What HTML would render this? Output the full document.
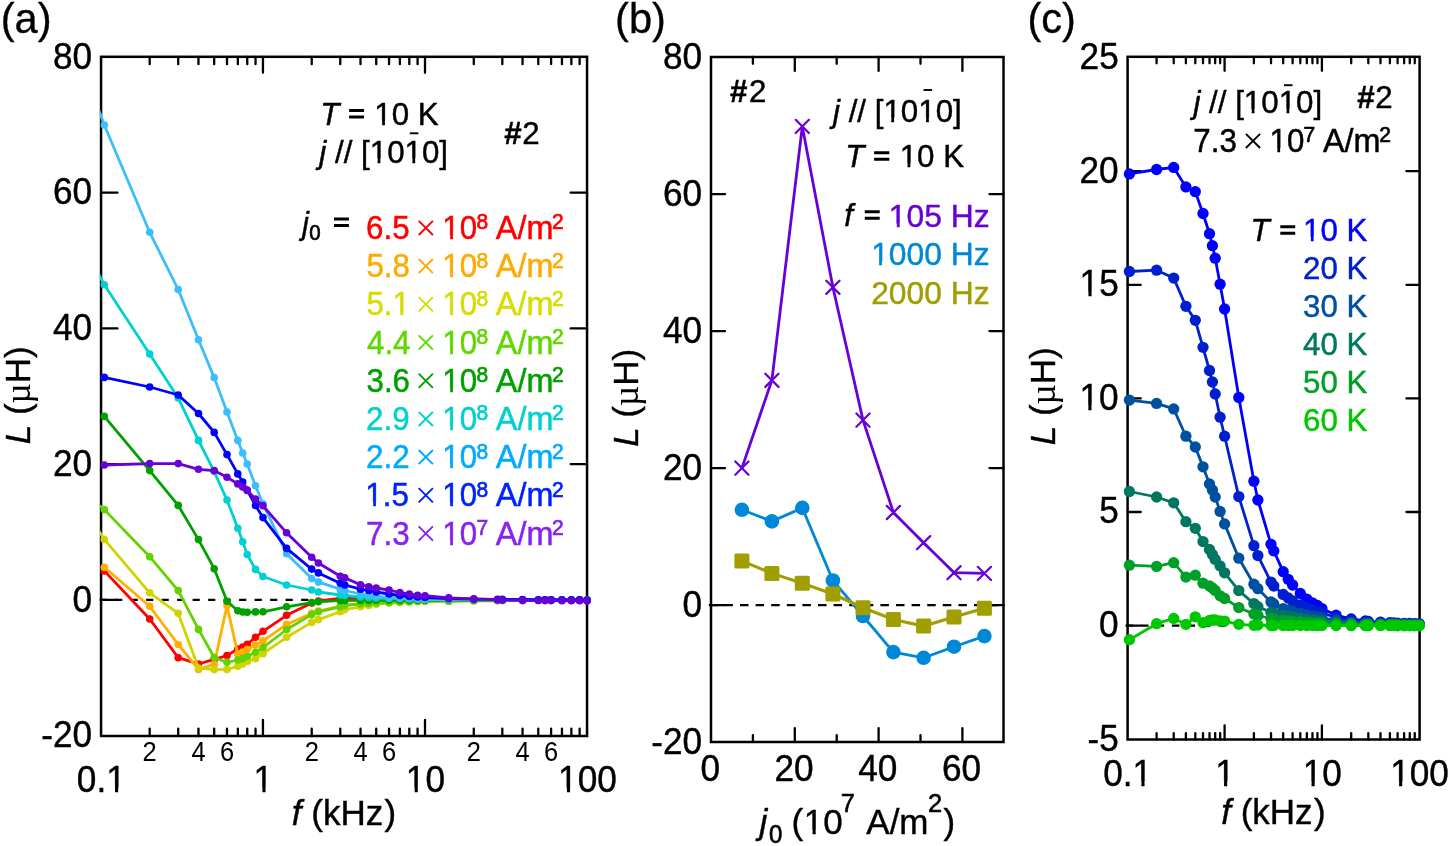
<!DOCTYPE html><html><head><meta charset="utf-8"><title>figure</title><style>html,body{margin:0;padding:0;background:#fff;overflow:hidden;}svg{display:block;will-change:transform;}text{font-family:"Liberation Sans",sans-serif;font-kerning:none;}</style></head><body>
<svg width="1450" height="846" viewBox="0 0 1450 846">
<rect width="1450" height="846" fill="#fff"/>
<defs>
<clipPath id="ca"><rect x="99.8" y="55.5" width="488.6" height="681.8"/></clipPath>
<clipPath id="cb"><rect x="709.7" y="55.7" width="295.1" height="687.6"/></clipPath>
<clipPath id="cc"><rect x="1126.3" y="55.5" width="294.6" height="685.3"/></clipPath>
</defs>
<rect x="101.05" y="56.80" width="486.00" height="679.20" fill="none" stroke="#000" stroke-width="2.5"/>
<rect x="711.00" y="57.00" width="292.50" height="685.00" fill="none" stroke="#000" stroke-width="2.5"/>
<rect x="1127.60" y="56.80" width="292.00" height="682.70" fill="none" stroke="#000" stroke-width="2.5"/>
<path d="M149.68 736.00v-7.35M149.68 56.80v7.35M178.22 736.00v-7.35M178.22 56.80v7.35M198.46 736.00v-7.35M198.46 56.80v7.35M214.17 736.00v-7.35M214.17 56.80v7.35M227.00 736.00v-7.35M227.00 56.80v7.35M237.85 736.00v-7.35M237.85 56.80v7.35M247.25 736.00v-7.35M247.25 56.80v7.35M255.53 736.00v-7.35M255.53 56.80v7.35M262.95 736.00v-16.05M262.95 56.80v16.05M311.73 736.00v-7.35M311.73 56.80v7.35M340.27 736.00v-7.35M340.27 56.80v7.35M360.51 736.00v-7.35M360.51 56.80v7.35M376.22 736.00v-7.35M376.22 56.80v7.35M389.05 736.00v-7.35M389.05 56.80v7.35M399.90 736.00v-7.35M399.90 56.80v7.35M409.30 736.00v-7.35M409.30 56.80v7.35M417.58 736.00v-7.35M417.58 56.80v7.35M425.00 736.00v-16.05M425.00 56.80v16.05M473.78 736.00v-7.35M473.78 56.80v7.35M502.32 736.00v-7.35M502.32 56.80v7.35M522.56 736.00v-7.35M522.56 56.80v7.35M538.27 736.00v-7.35M538.27 56.80v7.35M551.10 736.00v-7.35M551.10 56.80v7.35M561.95 736.00v-7.35M561.95 56.80v7.35M571.35 736.00v-7.35M571.35 56.80v7.35M579.63 736.00v-7.35M579.63 56.80v7.35M101.05 192.70h16.45M587.05 192.70h-16.45M101.05 328.40h16.45M587.05 328.40h-16.45M101.05 464.10h16.45M587.05 464.10h-16.45M101.05 599.80h16.45M587.05 599.80h-16.45M752.90 742.00v-6.85M752.90 57.00v6.85M794.80 742.00v-13.95M794.80 57.00v13.95M836.70 742.00v-6.85M836.70 57.00v6.85M878.60 742.00v-13.95M878.60 57.00v13.95M920.50 742.00v-6.85M920.50 57.00v6.85M962.40 742.00v-13.95M962.40 57.00v13.95M711.00 194.10h14.05M1003.50 194.10h-14.05M711.00 331.10h14.05M1003.50 331.10h-14.05M711.00 468.10h14.05M1003.50 468.10h-14.05M711.00 605.10h14.05M1003.50 605.10h-14.05M1156.59 739.50v-6.45M1156.59 56.80v6.45M1173.72 739.50v-6.45M1173.72 56.80v6.45M1185.88 739.50v-6.45M1185.88 56.80v6.45M1195.31 739.50v-6.45M1195.31 56.80v6.45M1203.01 739.50v-6.45M1203.01 56.80v6.45M1209.53 739.50v-6.45M1209.53 56.80v6.45M1215.17 739.50v-6.45M1215.17 56.80v6.45M1220.15 739.50v-6.45M1220.15 56.80v6.45M1224.60 739.50v-14.05M1224.60 56.80v14.05M1253.89 739.50v-6.45M1253.89 56.80v6.45M1271.02 739.50v-6.45M1271.02 56.80v6.45M1283.18 739.50v-6.45M1283.18 56.80v6.45M1292.61 739.50v-6.45M1292.61 56.80v6.45M1300.31 739.50v-6.45M1300.31 56.80v6.45M1306.83 739.50v-6.45M1306.83 56.80v6.45M1312.47 739.50v-6.45M1312.47 56.80v6.45M1317.45 739.50v-6.45M1317.45 56.80v6.45M1321.90 739.50v-14.05M1321.90 56.80v14.05M1351.19 739.50v-6.45M1351.19 56.80v6.45M1368.32 739.50v-6.45M1368.32 56.80v6.45M1380.48 739.50v-6.45M1380.48 56.80v6.45M1389.91 739.50v-6.45M1389.91 56.80v6.45M1397.61 739.50v-6.45M1397.61 56.80v6.45M1404.13 739.50v-6.45M1404.13 56.80v6.45M1409.77 739.50v-6.45M1409.77 56.80v6.45M1414.75 739.50v-6.45M1414.75 56.80v6.45M1127.60 171.20h13.15M1419.60 171.20h-13.15M1127.60 284.80h13.15M1419.60 284.80h-13.15M1127.60 398.40h13.15M1419.60 398.40h-13.15M1127.60 512.00h13.15M1419.60 512.00h-13.15M1127.60 625.60h13.15M1419.60 625.60h-13.15" stroke="#000" stroke-width="2.3" stroke-linecap="round" fill="none"/>
<line x1="99.6" y1="599.8" x2="587" y2="599.8" stroke="#000" stroke-width="2.3" stroke-dasharray="7.2 8.3"/>
<line x1="708.8" y1="605.2" x2="1003" y2="605.2" stroke="#000" stroke-width="2.3" stroke-dasharray="8.5 7.1"/>
<line x1="1125.5" y1="625.6" x2="1419.6" y2="625.6" stroke="#000" stroke-width="2.3" stroke-dasharray="7.5 8.0"/>
<polyline clip-path="url(#ca)" points="104.3,570.9 149.7,619.0 178.2,657.7 198.5,664.0 214.2,659.4 227.0,655.6 237.8,649.0 242.7,647.0 247.2,644.3 255.5,637.3 263.0,631.3 286.6,615.3 311.7,603.0 318.4,601.0 340.3,598.5 344.8,598.4 360.5,598.0 368.8,598.3 376.2,598.5 389.0,598.8 399.9,599.0 409.3,599.2 417.6,599.3 425.0,599.5 448.7,599.6 473.8,599.7 497.5,599.7 502.3,599.7 522.6,599.8 538.3,599.8 545.0,599.9 551.1,599.9 561.9,599.9 571.3,600.0 579.6,600.0 587.1,600.0" fill="none" stroke="#ff0000" stroke-width="2.8" stroke-linejoin="round"/>
<g fill="#ff0000"><circle cx="104.3" cy="570.9" r="3.8"/><circle cx="149.7" cy="619.0" r="3.8"/><circle cx="178.2" cy="657.7" r="3.8"/><circle cx="198.5" cy="664.0" r="3.8"/><circle cx="214.2" cy="659.4" r="3.8"/><circle cx="227.0" cy="655.6" r="3.8"/><circle cx="237.8" cy="649.0" r="3.8"/><circle cx="242.7" cy="647.0" r="3.8"/><circle cx="247.2" cy="644.3" r="3.8"/><circle cx="255.5" cy="637.3" r="3.8"/><circle cx="263.0" cy="631.3" r="3.8"/><circle cx="286.6" cy="615.3" r="3.8"/><circle cx="311.7" cy="603.0" r="3.8"/><circle cx="318.4" cy="601.0" r="3.8"/><circle cx="340.3" cy="598.5" r="3.8"/><circle cx="344.8" cy="598.4" r="3.8"/><circle cx="360.5" cy="598.0" r="3.8"/><circle cx="368.8" cy="598.3" r="3.8"/><circle cx="376.2" cy="598.5" r="3.8"/><circle cx="389.0" cy="598.8" r="3.8"/><circle cx="399.9" cy="599.0" r="3.8"/><circle cx="409.3" cy="599.2" r="3.8"/><circle cx="417.6" cy="599.3" r="3.8"/><circle cx="425.0" cy="599.5" r="3.8"/><circle cx="448.7" cy="599.6" r="3.8"/><circle cx="473.8" cy="599.7" r="3.8"/><circle cx="497.5" cy="599.7" r="3.8"/><circle cx="502.3" cy="599.7" r="3.8"/><circle cx="522.6" cy="599.8" r="3.8"/><circle cx="538.3" cy="599.8" r="3.8"/><circle cx="545.0" cy="599.9" r="3.8"/><circle cx="551.1" cy="599.9" r="3.8"/><circle cx="561.9" cy="599.9" r="3.8"/><circle cx="571.3" cy="600.0" r="3.8"/><circle cx="579.6" cy="600.0" r="3.8"/><circle cx="587.1" cy="600.0" r="3.8"/></g>
<polyline clip-path="url(#ca)" points="104.3,567.3 149.7,606.3 178.2,644.5 198.5,669.4 214.2,664.4 227.0,605.5 237.8,654.0 242.7,652.0 247.2,649.5 255.5,645.1 263.0,640.9 286.6,624.5 311.7,613.2 318.4,611.0 340.3,606.0 344.8,605.4 360.5,603.5 368.8,603.0 376.2,602.5 389.0,602.1 399.9,601.8 409.3,601.5 417.6,601.2 425.0,601.0 448.7,600.9 473.8,600.7 497.5,600.6 502.3,600.5 522.6,600.4 538.3,600.3 545.0,600.3 551.1,600.2 561.9,600.2 571.3,600.1 579.6,600.0 587.1,600.0" fill="none" stroke="#ffb000" stroke-width="2.8" stroke-linejoin="round"/>
<g fill="#ffb000"><circle cx="104.3" cy="567.3" r="3.8"/><circle cx="149.7" cy="606.3" r="3.8"/><circle cx="178.2" cy="644.5" r="3.8"/><circle cx="198.5" cy="669.4" r="3.8"/><circle cx="214.2" cy="664.4" r="3.8"/><circle cx="227.0" cy="605.5" r="3.8"/><circle cx="237.8" cy="654.0" r="3.8"/><circle cx="242.7" cy="652.0" r="3.8"/><circle cx="247.2" cy="649.5" r="3.8"/><circle cx="255.5" cy="645.1" r="3.8"/><circle cx="263.0" cy="640.9" r="3.8"/><circle cx="286.6" cy="624.5" r="3.8"/><circle cx="311.7" cy="613.2" r="3.8"/><circle cx="318.4" cy="611.0" r="3.8"/><circle cx="340.3" cy="606.0" r="3.8"/><circle cx="344.8" cy="605.4" r="3.8"/><circle cx="360.5" cy="603.5" r="3.8"/><circle cx="368.8" cy="603.0" r="3.8"/><circle cx="376.2" cy="602.5" r="3.8"/><circle cx="389.0" cy="602.1" r="3.8"/><circle cx="399.9" cy="601.8" r="3.8"/><circle cx="409.3" cy="601.5" r="3.8"/><circle cx="417.6" cy="601.2" r="3.8"/><circle cx="425.0" cy="601.0" r="3.8"/><circle cx="448.7" cy="600.9" r="3.8"/><circle cx="473.8" cy="600.7" r="3.8"/><circle cx="497.5" cy="600.6" r="3.8"/><circle cx="502.3" cy="600.5" r="3.8"/><circle cx="522.6" cy="600.4" r="3.8"/><circle cx="538.3" cy="600.3" r="3.8"/><circle cx="545.0" cy="600.3" r="3.8"/><circle cx="551.1" cy="600.2" r="3.8"/><circle cx="561.9" cy="600.2" r="3.8"/><circle cx="571.3" cy="600.1" r="3.8"/><circle cx="579.6" cy="600.0" r="3.8"/><circle cx="587.1" cy="600.0" r="3.8"/></g>
<polyline clip-path="url(#ca)" points="95.0,524.8 104.3,539.4 149.7,592.8 178.2,613.3 198.5,668.0 214.2,669.6 227.0,669.4 237.8,666.3 242.7,664.0 247.2,661.5 255.5,658.7 263.0,653.7 286.6,637.3 311.7,622.4 318.4,619.6 340.3,611.8 344.8,609.6 360.5,606.8 368.8,605.4 376.2,604.2 389.0,603.0 399.9,602.5 409.3,602.2 417.6,601.8 425.0,601.5 448.7,601.3 473.8,601.0 497.5,600.8 502.3,600.8 522.6,600.6 538.3,600.5 545.0,600.4 551.1,600.3 561.9,600.2 571.3,600.1 579.6,600.1 587.1,600.0" fill="none" stroke="#d0d400" stroke-width="2.8" stroke-linejoin="round"/>
<g fill="#d0d400"><circle cx="104.3" cy="539.4" r="3.8"/><circle cx="149.7" cy="592.8" r="3.8"/><circle cx="178.2" cy="613.3" r="3.8"/><circle cx="198.5" cy="668.0" r="3.8"/><circle cx="214.2" cy="669.6" r="3.8"/><circle cx="227.0" cy="669.4" r="3.8"/><circle cx="237.8" cy="666.3" r="3.8"/><circle cx="242.7" cy="664.0" r="3.8"/><circle cx="247.2" cy="661.5" r="3.8"/><circle cx="255.5" cy="658.7" r="3.8"/><circle cx="263.0" cy="653.7" r="3.8"/><circle cx="286.6" cy="637.3" r="3.8"/><circle cx="311.7" cy="622.4" r="3.8"/><circle cx="318.4" cy="619.6" r="3.8"/><circle cx="340.3" cy="611.8" r="3.8"/><circle cx="344.8" cy="609.6" r="3.8"/><circle cx="360.5" cy="606.8" r="3.8"/><circle cx="368.8" cy="605.4" r="3.8"/><circle cx="376.2" cy="604.2" r="3.8"/><circle cx="389.0" cy="603.0" r="3.8"/><circle cx="399.9" cy="602.5" r="3.8"/><circle cx="409.3" cy="602.2" r="3.8"/><circle cx="417.6" cy="601.8" r="3.8"/><circle cx="425.0" cy="601.5" r="3.8"/><circle cx="448.7" cy="601.3" r="3.8"/><circle cx="473.8" cy="601.0" r="3.8"/><circle cx="497.5" cy="600.8" r="3.8"/><circle cx="502.3" cy="600.8" r="3.8"/><circle cx="522.6" cy="600.6" r="3.8"/><circle cx="538.3" cy="600.5" r="3.8"/><circle cx="545.0" cy="600.4" r="3.8"/><circle cx="551.1" cy="600.3" r="3.8"/><circle cx="561.9" cy="600.2" r="3.8"/><circle cx="571.3" cy="600.1" r="3.8"/><circle cx="579.6" cy="600.1" r="3.8"/><circle cx="587.1" cy="600.0" r="3.8"/></g>
<polyline clip-path="url(#ca)" points="95.0,501.9 104.3,509.6 149.7,556.7 178.2,590.6 198.5,629.4 214.2,657.5 227.0,662.3 237.8,660.0 242.7,658.5 247.2,656.5 255.5,652.3 263.0,647.5 286.6,629.5 311.7,614.6 318.4,611.8 340.3,606.8 344.8,605.4 360.5,604.0 368.8,603.5 376.2,603.0 389.0,602.5 399.9,602.0 409.3,601.6 417.6,601.3 425.0,601.0 448.7,600.9 473.8,600.7 497.5,600.6 502.3,600.5 522.6,600.4 538.3,600.3 545.0,600.3 551.1,600.2 561.9,600.2 571.3,600.1 579.6,600.0 587.1,600.0" fill="none" stroke="#64d200" stroke-width="2.8" stroke-linejoin="round"/>
<g fill="#64d200"><circle cx="104.3" cy="509.6" r="3.8"/><circle cx="149.7" cy="556.7" r="3.8"/><circle cx="178.2" cy="590.6" r="3.8"/><circle cx="198.5" cy="629.4" r="3.8"/><circle cx="214.2" cy="657.5" r="3.8"/><circle cx="227.0" cy="662.3" r="3.8"/><circle cx="237.8" cy="660.0" r="3.8"/><circle cx="242.7" cy="658.5" r="3.8"/><circle cx="247.2" cy="656.5" r="3.8"/><circle cx="255.5" cy="652.3" r="3.8"/><circle cx="263.0" cy="647.5" r="3.8"/><circle cx="286.6" cy="629.5" r="3.8"/><circle cx="311.7" cy="614.6" r="3.8"/><circle cx="318.4" cy="611.8" r="3.8"/><circle cx="340.3" cy="606.8" r="3.8"/><circle cx="344.8" cy="605.4" r="3.8"/><circle cx="360.5" cy="604.0" r="3.8"/><circle cx="368.8" cy="603.5" r="3.8"/><circle cx="376.2" cy="603.0" r="3.8"/><circle cx="389.0" cy="602.5" r="3.8"/><circle cx="399.9" cy="602.0" r="3.8"/><circle cx="409.3" cy="601.6" r="3.8"/><circle cx="417.6" cy="601.3" r="3.8"/><circle cx="425.0" cy="601.0" r="3.8"/><circle cx="448.7" cy="600.9" r="3.8"/><circle cx="473.8" cy="600.7" r="3.8"/><circle cx="497.5" cy="600.6" r="3.8"/><circle cx="502.3" cy="600.5" r="3.8"/><circle cx="522.6" cy="600.4" r="3.8"/><circle cx="538.3" cy="600.3" r="3.8"/><circle cx="545.0" cy="600.3" r="3.8"/><circle cx="551.1" cy="600.2" r="3.8"/><circle cx="561.9" cy="600.2" r="3.8"/><circle cx="571.3" cy="600.1" r="3.8"/><circle cx="579.6" cy="600.0" r="3.8"/><circle cx="587.1" cy="600.0" r="3.8"/></g>
<polyline clip-path="url(#ca)" points="104.3,416.4 149.7,470.6 178.2,505.4 198.5,539.6 214.2,568.7 227.0,601.2 237.8,610.8 242.7,612.0 247.2,612.3 255.5,611.9 263.0,611.8 286.6,606.8 311.7,602.6 318.4,601.8 340.3,600.4 344.8,600.4 360.5,600.4 368.8,600.4 376.2,600.3 389.0,600.3 399.9,600.3 409.3,600.3 417.6,600.3 425.0,600.3 448.7,600.2 473.8,600.2 497.5,600.1 502.3,600.1 522.6,600.1 538.3,600.1 545.0,600.1 551.1,600.1 561.9,600.0 571.3,600.0 579.6,600.0 587.1,600.0" fill="none" stroke="#00a000" stroke-width="2.8" stroke-linejoin="round"/>
<g fill="#00a000"><circle cx="104.3" cy="416.4" r="3.8"/><circle cx="149.7" cy="470.6" r="3.8"/><circle cx="178.2" cy="505.4" r="3.8"/><circle cx="198.5" cy="539.6" r="3.8"/><circle cx="214.2" cy="568.7" r="3.8"/><circle cx="227.0" cy="601.2" r="3.8"/><circle cx="237.8" cy="610.8" r="3.8"/><circle cx="242.7" cy="612.0" r="3.8"/><circle cx="247.2" cy="612.3" r="3.8"/><circle cx="255.5" cy="611.9" r="3.8"/><circle cx="263.0" cy="611.8" r="3.8"/><circle cx="286.6" cy="606.8" r="3.8"/><circle cx="311.7" cy="602.6" r="3.8"/><circle cx="318.4" cy="601.8" r="3.8"/><circle cx="340.3" cy="600.4" r="3.8"/><circle cx="344.8" cy="600.4" r="3.8"/><circle cx="360.5" cy="600.4" r="3.8"/><circle cx="368.8" cy="600.4" r="3.8"/><circle cx="376.2" cy="600.3" r="3.8"/><circle cx="389.0" cy="600.3" r="3.8"/><circle cx="399.9" cy="600.3" r="3.8"/><circle cx="409.3" cy="600.3" r="3.8"/><circle cx="417.6" cy="600.3" r="3.8"/><circle cx="425.0" cy="600.3" r="3.8"/><circle cx="448.7" cy="600.2" r="3.8"/><circle cx="473.8" cy="600.2" r="3.8"/><circle cx="497.5" cy="600.1" r="3.8"/><circle cx="502.3" cy="600.1" r="3.8"/><circle cx="522.6" cy="600.1" r="3.8"/><circle cx="538.3" cy="600.1" r="3.8"/><circle cx="545.0" cy="600.1" r="3.8"/><circle cx="551.1" cy="600.1" r="3.8"/><circle cx="561.9" cy="600.0" r="3.8"/><circle cx="571.3" cy="600.0" r="3.8"/><circle cx="579.6" cy="600.0" r="3.8"/><circle cx="587.1" cy="600.0" r="3.8"/></g>
<polyline clip-path="url(#ca)" points="95.0,267.3 104.3,284.8 149.7,354.0 178.2,398.0 198.5,440.4 214.2,471.6 227.0,500.0 237.8,528.3 242.7,541.8 247.2,554.5 255.5,569.4 263.0,576.5 286.6,585.0 311.7,590.0 318.4,592.0 340.3,595.0 344.8,595.4 360.5,597.0 368.8,597.5 376.2,598.0 389.0,598.4 399.9,598.7 409.3,599.0 417.6,599.3 425.0,599.5 448.7,599.6 473.8,599.7 497.5,599.7 502.3,599.7 522.6,599.8 538.3,599.8 545.0,599.9 551.1,599.9 561.9,599.9 571.3,600.0 579.6,600.0 587.1,600.0" fill="none" stroke="#00d0d0" stroke-width="2.8" stroke-linejoin="round"/>
<g fill="#00d0d0"><circle cx="104.3" cy="284.8" r="3.8"/><circle cx="149.7" cy="354.0" r="3.8"/><circle cx="178.2" cy="398.0" r="3.8"/><circle cx="198.5" cy="440.4" r="3.8"/><circle cx="214.2" cy="471.6" r="3.8"/><circle cx="227.0" cy="500.0" r="3.8"/><circle cx="237.8" cy="528.3" r="3.8"/><circle cx="242.7" cy="541.8" r="3.8"/><circle cx="247.2" cy="554.5" r="3.8"/><circle cx="255.5" cy="569.4" r="3.8"/><circle cx="263.0" cy="576.5" r="3.8"/><circle cx="286.6" cy="585.0" r="3.8"/><circle cx="311.7" cy="590.0" r="3.8"/><circle cx="318.4" cy="592.0" r="3.8"/><circle cx="340.3" cy="595.0" r="3.8"/><circle cx="344.8" cy="595.4" r="3.8"/><circle cx="360.5" cy="597.0" r="3.8"/><circle cx="368.8" cy="597.5" r="3.8"/><circle cx="376.2" cy="598.0" r="3.8"/><circle cx="389.0" cy="598.4" r="3.8"/><circle cx="399.9" cy="598.7" r="3.8"/><circle cx="409.3" cy="599.0" r="3.8"/><circle cx="417.6" cy="599.3" r="3.8"/><circle cx="425.0" cy="599.5" r="3.8"/><circle cx="448.7" cy="599.6" r="3.8"/><circle cx="473.8" cy="599.7" r="3.8"/><circle cx="497.5" cy="599.7" r="3.8"/><circle cx="502.3" cy="599.7" r="3.8"/><circle cx="522.6" cy="599.8" r="3.8"/><circle cx="538.3" cy="599.8" r="3.8"/><circle cx="545.0" cy="599.9" r="3.8"/><circle cx="551.1" cy="599.9" r="3.8"/><circle cx="561.9" cy="599.9" r="3.8"/><circle cx="571.3" cy="600.0" r="3.8"/><circle cx="579.6" cy="600.0" r="3.8"/><circle cx="587.1" cy="600.0" r="3.8"/></g>
<polyline clip-path="url(#ca)" points="95.0,99.5 104.3,125.0 149.7,232.3 178.2,289.5 198.5,339.8 214.2,377.6 227.0,412.0 237.8,440.4 242.7,453.0 247.2,464.0 255.5,485.8 263.0,503.7 286.6,553.8 311.7,578.6 318.4,582.1 340.3,589.2 344.8,590.5 360.5,594.0 368.8,595.3 376.2,596.5 389.0,597.3 399.9,598.0 409.3,598.5 417.6,599.0 425.0,599.5 448.7,599.6 473.8,599.7 497.5,599.7 502.3,599.7 522.6,599.8 538.3,599.8 545.0,599.9 551.1,599.9 561.9,599.9 571.3,600.0 579.6,600.0 587.1,600.0" fill="none" stroke="#3cbefa" stroke-width="2.8" stroke-linejoin="round"/>
<g fill="#3cbefa"><circle cx="104.3" cy="125.0" r="3.8"/><circle cx="149.7" cy="232.3" r="3.8"/><circle cx="178.2" cy="289.5" r="3.8"/><circle cx="198.5" cy="339.8" r="3.8"/><circle cx="214.2" cy="377.6" r="3.8"/><circle cx="227.0" cy="412.0" r="3.8"/><circle cx="237.8" cy="440.4" r="3.8"/><circle cx="242.7" cy="453.0" r="3.8"/><circle cx="247.2" cy="464.0" r="3.8"/><circle cx="255.5" cy="485.8" r="3.8"/><circle cx="263.0" cy="503.7" r="3.8"/><circle cx="286.6" cy="553.8" r="3.8"/><circle cx="311.7" cy="578.6" r="3.8"/><circle cx="318.4" cy="582.1" r="3.8"/><circle cx="340.3" cy="589.2" r="3.8"/><circle cx="344.8" cy="590.5" r="3.8"/><circle cx="360.5" cy="594.0" r="3.8"/><circle cx="368.8" cy="595.3" r="3.8"/><circle cx="376.2" cy="596.5" r="3.8"/><circle cx="389.0" cy="597.3" r="3.8"/><circle cx="399.9" cy="598.0" r="3.8"/><circle cx="409.3" cy="598.5" r="3.8"/><circle cx="417.6" cy="599.0" r="3.8"/><circle cx="425.0" cy="599.5" r="3.8"/><circle cx="448.7" cy="599.6" r="3.8"/><circle cx="473.8" cy="599.7" r="3.8"/><circle cx="497.5" cy="599.7" r="3.8"/><circle cx="502.3" cy="599.7" r="3.8"/><circle cx="522.6" cy="599.8" r="3.8"/><circle cx="538.3" cy="599.8" r="3.8"/><circle cx="545.0" cy="599.9" r="3.8"/><circle cx="551.1" cy="599.9" r="3.8"/><circle cx="561.9" cy="599.9" r="3.8"/><circle cx="571.3" cy="600.0" r="3.8"/><circle cx="579.6" cy="600.0" r="3.8"/><circle cx="587.1" cy="600.0" r="3.8"/></g>
<polyline clip-path="url(#ca)" points="104.3,377.4 149.7,387.0 178.2,395.0 198.5,413.5 214.2,432.4 227.0,454.6 237.8,473.9 242.7,482.0 247.2,490.0 255.5,505.5 263.0,517.6 286.6,548.4 311.7,569.1 318.4,572.9 340.3,583.3 344.8,585.0 360.5,589.2 368.8,590.5 376.2,592.0 389.0,594.0 399.9,595.5 409.3,596.5 417.6,597.0 425.0,597.5 448.7,598.5 473.8,599.2 497.5,599.4 502.3,599.4 522.6,599.5 538.3,599.7 545.0,599.7 551.1,599.7 561.9,599.8 571.3,599.9 579.6,599.9 587.1,600.0" fill="none" stroke="#0000ff" stroke-width="2.8" stroke-linejoin="round"/>
<g fill="#0000ff"><circle cx="104.3" cy="377.4" r="3.8"/><circle cx="149.7" cy="387.0" r="3.8"/><circle cx="178.2" cy="395.0" r="3.8"/><circle cx="198.5" cy="413.5" r="3.8"/><circle cx="214.2" cy="432.4" r="3.8"/><circle cx="227.0" cy="454.6" r="3.8"/><circle cx="237.8" cy="473.9" r="3.8"/><circle cx="242.7" cy="482.0" r="3.8"/><circle cx="247.2" cy="490.0" r="3.8"/><circle cx="255.5" cy="505.5" r="3.8"/><circle cx="263.0" cy="517.6" r="3.8"/><circle cx="286.6" cy="548.4" r="3.8"/><circle cx="311.7" cy="569.1" r="3.8"/><circle cx="318.4" cy="572.9" r="3.8"/><circle cx="340.3" cy="583.3" r="3.8"/><circle cx="344.8" cy="585.0" r="3.8"/><circle cx="360.5" cy="589.2" r="3.8"/><circle cx="368.8" cy="590.5" r="3.8"/><circle cx="376.2" cy="592.0" r="3.8"/><circle cx="389.0" cy="594.0" r="3.8"/><circle cx="399.9" cy="595.5" r="3.8"/><circle cx="409.3" cy="596.5" r="3.8"/><circle cx="417.6" cy="597.0" r="3.8"/><circle cx="425.0" cy="597.5" r="3.8"/><circle cx="448.7" cy="598.5" r="3.8"/><circle cx="473.8" cy="599.2" r="3.8"/><circle cx="497.5" cy="599.4" r="3.8"/><circle cx="502.3" cy="599.4" r="3.8"/><circle cx="522.6" cy="599.5" r="3.8"/><circle cx="538.3" cy="599.7" r="3.8"/><circle cx="545.0" cy="599.7" r="3.8"/><circle cx="551.1" cy="599.7" r="3.8"/><circle cx="561.9" cy="599.8" r="3.8"/><circle cx="571.3" cy="599.9" r="3.8"/><circle cx="579.6" cy="599.9" r="3.8"/><circle cx="587.1" cy="600.0" r="3.8"/></g>
<polyline clip-path="url(#ca)" points="104.3,465.0 149.7,463.6 178.2,463.6 198.5,469.3 214.2,470.6 227.0,477.3 237.8,483.9 242.7,487.0 247.2,490.5 255.5,499.0 263.0,505.8 286.6,532.8 311.7,557.3 318.4,563.0 340.3,576.2 344.8,577.9 360.5,584.7 368.8,586.7 376.2,588.0 389.0,590.1 399.9,592.5 409.3,594.1 417.6,595.2 425.0,595.7 448.7,597.8 473.8,598.9 497.5,599.7 502.3,600.0 522.6,600.4 538.3,600.5 545.0,600.6 551.1,600.6 561.9,600.7 571.3,600.8 579.6,600.8 587.1,600.9" fill="none" stroke="#6800d8" stroke-width="2.8" stroke-linejoin="round"/>
<g fill="#6800d8"><circle cx="104.3" cy="465.0" r="3.8"/><circle cx="149.7" cy="463.6" r="3.8"/><circle cx="178.2" cy="463.6" r="3.8"/><circle cx="198.5" cy="469.3" r="3.8"/><circle cx="214.2" cy="470.6" r="3.8"/><circle cx="227.0" cy="477.3" r="3.8"/><circle cx="237.8" cy="483.9" r="3.8"/><circle cx="242.7" cy="487.0" r="3.8"/><circle cx="247.2" cy="490.5" r="3.8"/><circle cx="255.5" cy="499.0" r="3.8"/><circle cx="263.0" cy="505.8" r="3.8"/><circle cx="286.6" cy="532.8" r="3.8"/><circle cx="311.7" cy="557.3" r="3.8"/><circle cx="318.4" cy="563.0" r="3.8"/><circle cx="340.3" cy="576.2" r="3.8"/><circle cx="344.8" cy="577.9" r="3.8"/><circle cx="360.5" cy="584.7" r="3.8"/><circle cx="368.8" cy="586.7" r="3.8"/><circle cx="376.2" cy="588.0" r="3.8"/><circle cx="389.0" cy="590.1" r="3.8"/><circle cx="399.9" cy="592.5" r="3.8"/><circle cx="409.3" cy="594.1" r="3.8"/><circle cx="417.6" cy="595.2" r="3.8"/><circle cx="425.0" cy="595.7" r="3.8"/><circle cx="448.7" cy="597.8" r="3.8"/><circle cx="473.8" cy="598.9" r="3.8"/><circle cx="497.5" cy="599.7" r="3.8"/><circle cx="502.3" cy="600.0" r="3.8"/><circle cx="522.6" cy="600.4" r="3.8"/><circle cx="538.3" cy="600.5" r="3.8"/><circle cx="545.0" cy="600.6" r="3.8"/><circle cx="551.1" cy="600.6" r="3.8"/><circle cx="561.9" cy="600.7" r="3.8"/><circle cx="571.3" cy="600.8" r="3.8"/><circle cx="579.6" cy="600.8" r="3.8"/><circle cx="587.1" cy="600.9" r="3.8"/></g>
<polyline points="741.9,468.1 771.9,380.3 802.3,126.4 832.9,287.3 863.0,420.1 893.4,512.5 923.6,542.7 954.0,572.7 984.4,573.4" fill="none" stroke="#6800d8" stroke-width="2.8"/>
<path d="M735.3 461.5L748.5 474.7M735.3 474.7L748.5 461.5M765.3 373.7L778.5 386.9M765.3 386.9L778.5 373.7M795.7 119.8L808.9 133.0M795.7 133.0L808.9 119.8M826.3 280.7L839.5 293.9M826.3 293.9L839.5 280.7M856.4 413.5L869.6 426.7M856.4 426.7L869.6 413.5M886.8 505.9L900.0 519.1M886.8 519.1L900.0 505.9M917.0 536.1L930.2 549.3M917.0 549.3L930.2 536.1M947.4 566.1L960.6 579.3M947.4 579.3L960.6 566.1M977.8 566.8L991.0 580.0M977.8 580.0L991.0 566.8" stroke="#6800d8" stroke-width="2.2" stroke-linecap="round" fill="none"/>
<polyline points="741.9,509.8 771.9,521.4 802.3,507.9 832.9,580.5 863.0,616.0 893.4,652.1 923.6,657.8 954.0,646.7 984.4,636.1" fill="none" stroke="#0088d8" stroke-width="2.8"/>
<g fill="#0088d8"><circle cx="741.9" cy="509.8" r="7.3"/><circle cx="771.9" cy="521.4" r="7.3"/><circle cx="802.3" cy="507.9" r="7.3"/><circle cx="832.9" cy="580.5" r="7.3"/><circle cx="863.0" cy="616.0" r="7.3"/><circle cx="893.4" cy="652.1" r="7.3"/><circle cx="923.6" cy="657.8" r="7.3"/><circle cx="954.0" cy="646.7" r="7.3"/><circle cx="984.4" cy="636.1" r="7.3"/></g>
<polyline points="741.9,560.9 771.9,573.4 802.3,583.3 832.9,594.0 863.0,607.7 893.4,619.5 923.6,626.1 954.0,617.1 984.4,608.2" fill="none" stroke="#a09e00" stroke-width="3.1"/>
<g fill="#a09e00"><rect x="734.4" y="553.4" width="15" height="15" rx="1.5"/><rect x="764.4" y="565.9" width="15" height="15" rx="1.5"/><rect x="794.8" y="575.8" width="15" height="15" rx="1.5"/><rect x="825.4" y="586.5" width="15" height="15" rx="1.5"/><rect x="855.5" y="600.2" width="15" height="15" rx="1.5"/><rect x="885.9" y="612.0" width="15" height="15" rx="1.5"/><rect x="916.1" y="618.6" width="15" height="15" rx="1.5"/><rect x="946.5" y="609.6" width="15" height="15" rx="1.5"/><rect x="976.9" y="600.7" width="15" height="15" rx="1.5"/></g>
<polyline clip-path="url(#cc)" points="1129.4,173.9 1156.6,169.5 1173.7,167.4 1185.9,186.9 1195.3,191.7 1203.0,213.5 1209.5,233.7 1212.4,245.7 1215.2,258.2 1220.1,284.2 1224.6,309.0 1238.8,397.5 1253.9,481.2 1257.9,500.0 1271.0,544.3 1273.8,550.9 1283.2,571.7 1288.2,579.3 1292.6,585.0 1300.3,593.4 1306.8,599.1 1312.5,603.0 1317.4,605.5 1321.9,608.6 1336.1,615.2 1351.2,619.0 1365.4,621.0 1368.3,621.4 1380.5,622.2 1389.9,622.7 1393.9,623.0 1397.6,623.2 1404.1,623.4 1409.8,623.5 1414.7,623.6 1419.2,623.7" fill="none" stroke="#0000ff" stroke-width="2.8" stroke-linejoin="round"/>
<g fill="#0000ff"><circle cx="1129.4" cy="173.9" r="5.65"/><circle cx="1156.6" cy="169.5" r="5.65"/><circle cx="1173.7" cy="167.4" r="5.65"/><circle cx="1185.9" cy="186.9" r="5.65"/><circle cx="1195.3" cy="191.7" r="5.65"/><circle cx="1203.0" cy="213.5" r="5.65"/><circle cx="1209.5" cy="233.7" r="5.65"/><circle cx="1212.4" cy="245.7" r="5.65"/><circle cx="1215.2" cy="258.2" r="5.65"/><circle cx="1220.1" cy="284.2" r="5.65"/><circle cx="1224.6" cy="309.0" r="5.65"/><circle cx="1238.8" cy="397.5" r="5.65"/><circle cx="1253.9" cy="481.2" r="5.65"/><circle cx="1257.9" cy="500.0" r="5.65"/><circle cx="1271.0" cy="544.3" r="5.65"/><circle cx="1273.8" cy="550.9" r="5.65"/><circle cx="1283.2" cy="571.7" r="5.65"/><circle cx="1288.2" cy="579.3" r="5.65"/><circle cx="1292.6" cy="585.0" r="5.65"/><circle cx="1300.3" cy="593.4" r="5.65"/><circle cx="1306.8" cy="599.1" r="5.65"/><circle cx="1312.5" cy="603.0" r="5.65"/><circle cx="1317.4" cy="605.5" r="5.65"/><circle cx="1321.9" cy="608.6" r="5.65"/><circle cx="1336.1" cy="615.2" r="5.65"/><circle cx="1351.2" cy="619.0" r="5.65"/><circle cx="1365.4" cy="621.0" r="5.65"/><circle cx="1368.3" cy="621.4" r="5.65"/><circle cx="1380.5" cy="622.2" r="5.65"/><circle cx="1389.9" cy="622.7" r="5.65"/><circle cx="1393.9" cy="623.0" r="5.65"/><circle cx="1397.6" cy="623.2" r="5.65"/><circle cx="1404.1" cy="623.4" r="5.65"/><circle cx="1409.8" cy="623.5" r="5.65"/><circle cx="1414.7" cy="623.6" r="5.65"/><circle cx="1419.2" cy="623.7" r="5.65"/></g>
<polyline clip-path="url(#cc)" points="1129.4,271.5 1156.6,270.2 1173.7,278.1 1185.9,306.3 1195.3,320.3 1203.0,347.3 1209.5,370.5 1212.4,382.0 1215.2,394.0 1220.1,417.2 1224.6,436.2 1238.8,496.6 1253.9,545.7 1257.9,555.6 1271.0,582.1 1273.8,586.0 1283.2,594.4 1288.2,598.0 1292.6,601.0 1300.3,605.0 1306.8,608.0 1312.5,610.0 1317.4,611.5 1321.9,613.0 1336.1,617.5 1351.2,620.5 1365.4,622.2 1368.3,622.5 1380.5,623.3 1389.9,623.5 1393.9,623.6 1397.6,623.7 1404.1,623.9 1409.8,624.1 1414.7,624.2 1419.2,624.3" fill="none" stroke="#0020d0" stroke-width="2.8" stroke-linejoin="round"/>
<g fill="#0020d0"><circle cx="1129.4" cy="271.5" r="5.65"/><circle cx="1156.6" cy="270.2" r="5.65"/><circle cx="1173.7" cy="278.1" r="5.65"/><circle cx="1185.9" cy="306.3" r="5.65"/><circle cx="1195.3" cy="320.3" r="5.65"/><circle cx="1203.0" cy="347.3" r="5.65"/><circle cx="1209.5" cy="370.5" r="5.65"/><circle cx="1212.4" cy="382.0" r="5.65"/><circle cx="1215.2" cy="394.0" r="5.65"/><circle cx="1220.1" cy="417.2" r="5.65"/><circle cx="1224.6" cy="436.2" r="5.65"/><circle cx="1238.8" cy="496.6" r="5.65"/><circle cx="1253.9" cy="545.7" r="5.65"/><circle cx="1257.9" cy="555.6" r="5.65"/><circle cx="1271.0" cy="582.1" r="5.65"/><circle cx="1273.8" cy="586.0" r="5.65"/><circle cx="1283.2" cy="594.4" r="5.65"/><circle cx="1288.2" cy="598.0" r="5.65"/><circle cx="1292.6" cy="601.0" r="5.65"/><circle cx="1300.3" cy="605.0" r="5.65"/><circle cx="1306.8" cy="608.0" r="5.65"/><circle cx="1312.5" cy="610.0" r="5.65"/><circle cx="1317.4" cy="611.5" r="5.65"/><circle cx="1321.9" cy="613.0" r="5.65"/><circle cx="1336.1" cy="617.5" r="5.65"/><circle cx="1351.2" cy="620.5" r="5.65"/><circle cx="1365.4" cy="622.2" r="5.65"/><circle cx="1368.3" cy="622.5" r="5.65"/><circle cx="1380.5" cy="623.3" r="5.65"/><circle cx="1389.9" cy="623.5" r="5.65"/><circle cx="1393.9" cy="623.6" r="5.65"/><circle cx="1397.6" cy="623.7" r="5.65"/><circle cx="1404.1" cy="623.9" r="5.65"/><circle cx="1409.8" cy="624.1" r="5.65"/><circle cx="1414.7" cy="624.2" r="5.65"/><circle cx="1419.2" cy="624.3" r="5.65"/></g>
<polyline clip-path="url(#cc)" points="1129.4,400.1 1156.6,403.4 1173.7,408.9 1185.9,436.2 1195.3,447.0 1203.0,466.8 1209.5,484.0 1212.4,490.0 1215.2,497.0 1220.1,511.4 1224.6,523.9 1238.8,558.2 1253.9,584.2 1257.9,588.7 1271.0,602.0 1273.8,604.0 1283.2,608.6 1288.2,610.1 1292.6,611.5 1300.3,613.5 1306.8,615.0 1312.5,616.1 1317.4,617.1 1321.9,618.0 1336.1,620.5 1351.2,622.3 1365.4,623.3 1368.3,623.5 1380.5,623.7 1389.9,623.9 1393.9,624.0 1397.6,624.1 1404.1,624.2 1409.8,624.3 1414.7,624.4 1419.2,624.5" fill="none" stroke="#0050a0" stroke-width="2.8" stroke-linejoin="round"/>
<g fill="#0050a0"><circle cx="1129.4" cy="400.1" r="5.65"/><circle cx="1156.6" cy="403.4" r="5.65"/><circle cx="1173.7" cy="408.9" r="5.65"/><circle cx="1185.9" cy="436.2" r="5.65"/><circle cx="1195.3" cy="447.0" r="5.65"/><circle cx="1203.0" cy="466.8" r="5.65"/><circle cx="1209.5" cy="484.0" r="5.65"/><circle cx="1212.4" cy="490.0" r="5.65"/><circle cx="1215.2" cy="497.0" r="5.65"/><circle cx="1220.1" cy="511.4" r="5.65"/><circle cx="1224.6" cy="523.9" r="5.65"/><circle cx="1238.8" cy="558.2" r="5.65"/><circle cx="1253.9" cy="584.2" r="5.65"/><circle cx="1257.9" cy="588.7" r="5.65"/><circle cx="1271.0" cy="602.0" r="5.65"/><circle cx="1273.8" cy="604.0" r="5.65"/><circle cx="1283.2" cy="608.6" r="5.65"/><circle cx="1288.2" cy="610.1" r="5.65"/><circle cx="1292.6" cy="611.5" r="5.65"/><circle cx="1300.3" cy="613.5" r="5.65"/><circle cx="1306.8" cy="615.0" r="5.65"/><circle cx="1312.5" cy="616.1" r="5.65"/><circle cx="1317.4" cy="617.1" r="5.65"/><circle cx="1321.9" cy="618.0" r="5.65"/><circle cx="1336.1" cy="620.5" r="5.65"/><circle cx="1351.2" cy="622.3" r="5.65"/><circle cx="1365.4" cy="623.3" r="5.65"/><circle cx="1368.3" cy="623.5" r="5.65"/><circle cx="1380.5" cy="623.7" r="5.65"/><circle cx="1389.9" cy="623.9" r="5.65"/><circle cx="1393.9" cy="624.0" r="5.65"/><circle cx="1397.6" cy="624.1" r="5.65"/><circle cx="1404.1" cy="624.2" r="5.65"/><circle cx="1409.8" cy="624.3" r="5.65"/><circle cx="1414.7" cy="624.4" r="5.65"/><circle cx="1419.2" cy="624.5" r="5.65"/></g>
<polyline clip-path="url(#cc)" points="1129.4,491.5 1156.6,497.0 1173.7,502.8 1185.9,521.7 1195.3,528.3 1203.0,541.6 1209.5,549.5 1212.4,554.5 1215.2,559.4 1220.1,566.0 1224.6,572.8 1238.8,590.6 1253.9,603.6 1257.9,606.7 1271.0,612.4 1273.8,613.3 1283.2,615.5 1288.2,616.3 1292.6,617.0 1300.3,618.5 1306.8,619.5 1312.5,620.2 1317.4,620.8 1321.9,621.3 1336.1,622.5 1351.2,623.5 1365.4,623.8 1368.3,623.9 1380.5,624.1 1389.9,624.4 1393.9,624.4 1397.6,624.5 1404.1,624.7 1409.8,624.8 1414.7,624.9 1419.2,625.0" fill="none" stroke="#007860" stroke-width="2.8" stroke-linejoin="round"/>
<g fill="#007860"><circle cx="1129.4" cy="491.5" r="5.65"/><circle cx="1156.6" cy="497.0" r="5.65"/><circle cx="1173.7" cy="502.8" r="5.65"/><circle cx="1185.9" cy="521.7" r="5.65"/><circle cx="1195.3" cy="528.3" r="5.65"/><circle cx="1203.0" cy="541.6" r="5.65"/><circle cx="1209.5" cy="549.5" r="5.65"/><circle cx="1212.4" cy="554.5" r="5.65"/><circle cx="1215.2" cy="559.4" r="5.65"/><circle cx="1220.1" cy="566.0" r="5.65"/><circle cx="1224.6" cy="572.8" r="5.65"/><circle cx="1238.8" cy="590.6" r="5.65"/><circle cx="1253.9" cy="603.6" r="5.65"/><circle cx="1257.9" cy="606.7" r="5.65"/><circle cx="1271.0" cy="612.4" r="5.65"/><circle cx="1273.8" cy="613.3" r="5.65"/><circle cx="1283.2" cy="615.5" r="5.65"/><circle cx="1288.2" cy="616.3" r="5.65"/><circle cx="1292.6" cy="617.0" r="5.65"/><circle cx="1300.3" cy="618.5" r="5.65"/><circle cx="1306.8" cy="619.5" r="5.65"/><circle cx="1312.5" cy="620.2" r="5.65"/><circle cx="1317.4" cy="620.8" r="5.65"/><circle cx="1321.9" cy="621.3" r="5.65"/><circle cx="1336.1" cy="622.5" r="5.65"/><circle cx="1351.2" cy="623.5" r="5.65"/><circle cx="1365.4" cy="623.8" r="5.65"/><circle cx="1368.3" cy="623.9" r="5.65"/><circle cx="1380.5" cy="624.1" r="5.65"/><circle cx="1389.9" cy="624.4" r="5.65"/><circle cx="1393.9" cy="624.4" r="5.65"/><circle cx="1397.6" cy="624.5" r="5.65"/><circle cx="1404.1" cy="624.7" r="5.65"/><circle cx="1409.8" cy="624.8" r="5.65"/><circle cx="1414.7" cy="624.9" r="5.65"/><circle cx="1419.2" cy="625.0" r="5.65"/></g>
<polyline clip-path="url(#cc)" points="1129.4,565.2 1156.6,566.4 1173.7,562.7 1185.9,577.1 1195.3,575.2 1203.0,583.2 1209.5,586.0 1212.4,588.0 1215.2,590.5 1220.1,595.8 1224.6,598.5 1238.8,607.6 1253.9,614.0 1257.9,615.5 1271.0,618.5 1273.8,618.9 1283.2,620.5 1288.2,621.0 1292.6,621.5 1300.3,622.0 1306.8,622.5 1312.5,622.9 1317.4,623.2 1321.9,623.5 1336.1,624.0 1351.2,624.5 1365.4,624.7 1368.3,624.7 1380.5,624.8 1389.9,625.0 1393.9,625.0 1397.6,625.0 1404.1,625.1 1409.8,625.2 1414.7,625.2 1419.2,625.3" fill="none" stroke="#00a028" stroke-width="2.8" stroke-linejoin="round"/>
<g fill="#00a028"><circle cx="1129.4" cy="565.2" r="5.65"/><circle cx="1156.6" cy="566.4" r="5.65"/><circle cx="1173.7" cy="562.7" r="5.65"/><circle cx="1185.9" cy="577.1" r="5.65"/><circle cx="1195.3" cy="575.2" r="5.65"/><circle cx="1203.0" cy="583.2" r="5.65"/><circle cx="1209.5" cy="586.0" r="5.65"/><circle cx="1212.4" cy="588.0" r="5.65"/><circle cx="1215.2" cy="590.5" r="5.65"/><circle cx="1220.1" cy="595.8" r="5.65"/><circle cx="1224.6" cy="598.5" r="5.65"/><circle cx="1238.8" cy="607.6" r="5.65"/><circle cx="1253.9" cy="614.0" r="5.65"/><circle cx="1257.9" cy="615.5" r="5.65"/><circle cx="1271.0" cy="618.5" r="5.65"/><circle cx="1273.8" cy="618.9" r="5.65"/><circle cx="1283.2" cy="620.5" r="5.65"/><circle cx="1288.2" cy="621.0" r="5.65"/><circle cx="1292.6" cy="621.5" r="5.65"/><circle cx="1300.3" cy="622.0" r="5.65"/><circle cx="1306.8" cy="622.5" r="5.65"/><circle cx="1312.5" cy="622.9" r="5.65"/><circle cx="1317.4" cy="623.2" r="5.65"/><circle cx="1321.9" cy="623.5" r="5.65"/><circle cx="1336.1" cy="624.0" r="5.65"/><circle cx="1351.2" cy="624.5" r="5.65"/><circle cx="1365.4" cy="624.7" r="5.65"/><circle cx="1368.3" cy="624.7" r="5.65"/><circle cx="1380.5" cy="624.8" r="5.65"/><circle cx="1389.9" cy="625.0" r="5.65"/><circle cx="1393.9" cy="625.0" r="5.65"/><circle cx="1397.6" cy="625.0" r="5.65"/><circle cx="1404.1" cy="625.1" r="5.65"/><circle cx="1409.8" cy="625.2" r="5.65"/><circle cx="1414.7" cy="625.2" r="5.65"/><circle cx="1419.2" cy="625.3" r="5.65"/></g>
<polyline clip-path="url(#cc)" points="1129.4,639.7 1156.6,623.7 1173.7,618.4 1185.9,624.3 1195.3,616.8 1203.0,622.7 1209.5,620.5 1212.4,620.0 1215.2,620.0 1220.1,621.0 1224.6,621.1 1238.8,624.3 1253.9,625.3 1257.9,625.0 1271.0,625.5 1273.8,625.5 1283.2,625.5 1288.2,625.5 1292.6,625.5 1300.3,625.6 1306.8,625.6 1312.5,625.6 1317.4,625.6 1321.9,625.6 1336.1,625.6 1351.2,625.7 1365.4,625.7 1368.3,625.7 1380.5,625.7 1389.9,625.7 1393.9,625.7 1397.6,625.8 1404.1,625.8 1409.8,625.8 1414.7,625.8 1419.2,625.8" fill="none" stroke="#00c800" stroke-width="2.8" stroke-linejoin="round"/>
<g fill="#00c800"><circle cx="1129.4" cy="639.7" r="5.65"/><circle cx="1156.6" cy="623.7" r="5.65"/><circle cx="1173.7" cy="618.4" r="5.65"/><circle cx="1185.9" cy="624.3" r="5.65"/><circle cx="1195.3" cy="616.8" r="5.65"/><circle cx="1203.0" cy="622.7" r="5.65"/><circle cx="1209.5" cy="620.5" r="5.65"/><circle cx="1212.4" cy="620.0" r="5.65"/><circle cx="1215.2" cy="620.0" r="5.65"/><circle cx="1220.1" cy="621.0" r="5.65"/><circle cx="1224.6" cy="621.1" r="5.65"/><circle cx="1238.8" cy="624.3" r="5.65"/><circle cx="1253.9" cy="625.3" r="5.65"/><circle cx="1257.9" cy="625.0" r="5.65"/><circle cx="1271.0" cy="625.5" r="5.65"/><circle cx="1273.8" cy="625.5" r="5.65"/><circle cx="1283.2" cy="625.5" r="5.65"/><circle cx="1288.2" cy="625.5" r="5.65"/><circle cx="1292.6" cy="625.5" r="5.65"/><circle cx="1300.3" cy="625.6" r="5.65"/><circle cx="1306.8" cy="625.6" r="5.65"/><circle cx="1312.5" cy="625.6" r="5.65"/><circle cx="1317.4" cy="625.6" r="5.65"/><circle cx="1321.9" cy="625.6" r="5.65"/><circle cx="1336.1" cy="625.6" r="5.65"/><circle cx="1351.2" cy="625.7" r="5.65"/><circle cx="1365.4" cy="625.7" r="5.65"/><circle cx="1368.3" cy="625.7" r="5.65"/><circle cx="1380.5" cy="625.7" r="5.65"/><circle cx="1389.9" cy="625.7" r="5.65"/><circle cx="1393.9" cy="625.7" r="5.65"/><circle cx="1397.6" cy="625.8" r="5.65"/><circle cx="1404.1" cy="625.8" r="5.65"/><circle cx="1409.8" cy="625.8" r="5.65"/><circle cx="1414.7" cy="625.8" r="5.65"/><circle cx="1419.2" cy="625.8" r="5.65"/></g>
<text transform="translate(0.70,33.00)" font-size="41.60" fill="#000" stroke="#000" stroke-width="0.34">(a)</text>
<text transform="translate(615.10,33.30)" font-size="41.60" fill="#000" stroke="#000" stroke-width="0.34">(b)</text>
<text transform="translate(1027.40,33.30)" font-size="41.60" fill="#000" stroke="#000" stroke-width="0.34">(c)</text>
<text transform="translate(53.02,68.70) scale(1.000,1.025)" font-size="35.20" fill="#000" stroke="#000" stroke-width="0.40">80</text>
<text transform="translate(53.02,204.40) scale(1.000,1.025)" font-size="35.20" fill="#000" stroke="#000" stroke-width="0.40">60</text>
<text transform="translate(53.02,340.10) scale(1.000,1.025)" font-size="35.20" fill="#000" stroke="#000" stroke-width="0.40">40</text>
<text transform="translate(53.02,475.80) scale(1.000,1.025)" font-size="35.20" fill="#000" stroke="#000" stroke-width="0.40">20</text>
<text transform="translate(72.60,611.50) scale(1.000,1.025)" font-size="35.20" fill="#000" stroke="#000" stroke-width="0.40">0</text>
<text transform="translate(41.30,747.20) scale(1.000,1.025)" font-size="35.20" fill="#000" stroke="#000" stroke-width="0.40">-20</text>
<text transform="translate(662.92,68.80) scale(1.000,1.025)" font-size="35.20" fill="#000" stroke="#000" stroke-width="0.40">80</text>
<text transform="translate(662.92,205.80) scale(1.000,1.025)" font-size="35.20" fill="#000" stroke="#000" stroke-width="0.40">60</text>
<text transform="translate(662.92,342.80) scale(1.000,1.025)" font-size="35.20" fill="#000" stroke="#000" stroke-width="0.40">40</text>
<text transform="translate(662.92,479.80) scale(1.000,1.025)" font-size="35.20" fill="#000" stroke="#000" stroke-width="0.40">20</text>
<text transform="translate(682.50,616.80) scale(1.000,1.025)" font-size="35.20" fill="#000" stroke="#000" stroke-width="0.40">0</text>
<text transform="translate(651.20,753.80) scale(1.000,1.025)" font-size="35.20" fill="#000" stroke="#000" stroke-width="0.40">-20</text>
<text transform="translate(1079.62,69.00) scale(1.000,1.025)" font-size="35.20" fill="#000" stroke="#000" stroke-width="0.40">25</text>
<text transform="translate(1079.52,182.60) scale(1.000,1.025)" font-size="35.20" fill="#000" stroke="#000" stroke-width="0.40">20</text>
<clipPath id="c1_1"><path clip-rule="evenodd" d="M-35.20 -70.40H109.55V35.20H-35.20ZM0.69 -4.23H8.85V1.50H0.69ZM11.96 -4.23H19.42V1.50H11.96Z"/></clipPath>
<text transform="translate(1079.62,296.20) scale(1.000,1.025)" font-size="35.20" fill="#000" stroke="#000" stroke-width="0.40" clip-path="url(#c1_1)">15</text>
<clipPath id="c1_2"><path clip-rule="evenodd" d="M-35.20 -70.40H109.55V35.20H-35.20ZM0.69 -4.23H8.85V1.50H0.69ZM11.96 -4.23H19.42V1.50H11.96Z"/></clipPath>
<text transform="translate(1079.52,409.80) scale(1.000,1.025)" font-size="35.20" fill="#000" stroke="#000" stroke-width="0.40" clip-path="url(#c1_2)">10</text>
<text transform="translate(1099.20,523.40) scale(1.000,1.025)" font-size="35.20" fill="#000" stroke="#000" stroke-width="0.40">5</text>
<text transform="translate(1099.10,637.00) scale(1.000,1.025)" font-size="35.20" fill="#000" stroke="#000" stroke-width="0.40">0</text>
<text transform="translate(1087.48,750.60) scale(1.000,1.025)" font-size="35.20" fill="#000" stroke="#000" stroke-width="0.40">-5</text>
<clipPath id="c1_3"><path clip-rule="evenodd" d="M-35.20 -70.40H119.33V35.20H-35.20ZM30.04 -4.23H38.21V1.50H30.04ZM41.32 -4.23H48.78V1.50H41.32Z"/></clipPath>
<text transform="translate(76.83,792.00) scale(1.000,1.025)" font-size="35.20" fill="#000" stroke="#000" stroke-width="0.40" clip-path="url(#c1_3)">0.1</text>
<clipPath id="c1_4"><path clip-rule="evenodd" d="M-35.20 -70.40H89.98V35.20H-35.20ZM0.69 -4.23H8.85V1.50H0.69ZM11.96 -4.23H19.42V1.50H11.96Z"/></clipPath>
<text transform="translate(253.56,792.00) scale(1.000,1.025)" font-size="35.20" fill="#000" stroke="#000" stroke-width="0.40" clip-path="url(#c1_4)">1</text>
<clipPath id="c1_5"><path clip-rule="evenodd" d="M-35.20 -70.40H109.55V35.20H-35.20ZM0.69 -4.23H8.85V1.50H0.69ZM11.96 -4.23H19.42V1.50H11.96Z"/></clipPath>
<text transform="translate(405.82,792.00) scale(1.000,1.025)" font-size="35.20" fill="#000" stroke="#000" stroke-width="0.40" clip-path="url(#c1_5)">10</text>
<clipPath id="c1_6"><path clip-rule="evenodd" d="M-35.20 -70.40H129.13V35.20H-35.20ZM0.69 -4.23H8.85V1.50H0.69ZM11.96 -4.23H19.42V1.50H11.96Z"/></clipPath>
<text transform="translate(558.09,792.00) scale(1.000,1.025)" font-size="35.20" fill="#000" stroke="#000" stroke-width="0.40" clip-path="url(#c1_6)">100</text>
<clipPath id="c1_7"><path clip-rule="evenodd" d="M-35.20 -70.40H119.33V35.20H-35.20ZM30.04 -4.23H38.21V1.50H30.04ZM41.32 -4.23H48.78V1.50H41.32Z"/></clipPath>
<text transform="translate(1103.23,785.90) scale(1.000,1.025)" font-size="35.20" fill="#000" stroke="#000" stroke-width="0.40" clip-path="url(#c1_7)">0.1</text>
<clipPath id="c1_8"><path clip-rule="evenodd" d="M-35.20 -70.40H89.98V35.20H-35.20ZM0.69 -4.23H8.85V1.50H0.69ZM11.96 -4.23H19.42V1.50H11.96Z"/></clipPath>
<text transform="translate(1215.21,785.90) scale(1.000,1.025)" font-size="35.20" fill="#000" stroke="#000" stroke-width="0.40" clip-path="url(#c1_8)">1</text>
<clipPath id="c1_9"><path clip-rule="evenodd" d="M-35.20 -70.40H109.55V35.20H-35.20ZM0.69 -4.23H8.85V1.50H0.69ZM11.96 -4.23H19.42V1.50H11.96Z"/></clipPath>
<text transform="translate(1302.72,785.90) scale(1.000,1.025)" font-size="35.20" fill="#000" stroke="#000" stroke-width="0.40" clip-path="url(#c1_9)">10</text>
<clipPath id="c1_10"><path clip-rule="evenodd" d="M-35.20 -70.40H129.13V35.20H-35.20ZM0.69 -4.23H8.85V1.50H0.69ZM11.96 -4.23H19.42V1.50H11.96Z"/></clipPath>
<text transform="translate(1390.24,785.90) scale(1.000,1.025)" font-size="35.20" fill="#000" stroke="#000" stroke-width="0.40" clip-path="url(#c1_10)">100</text>
<text transform="translate(700.41,781.30) scale(1.000,1.025)" font-size="35.20" fill="#000" stroke="#000" stroke-width="0.40">0</text>
<text transform="translate(774.42,781.30) scale(1.000,1.025)" font-size="35.20" fill="#000" stroke="#000" stroke-width="0.40">20</text>
<text transform="translate(858.22,781.30) scale(1.000,1.025)" font-size="35.20" fill="#000" stroke="#000" stroke-width="0.40">40</text>
<text transform="translate(942.02,781.30) scale(1.000,1.025)" font-size="35.20" fill="#000" stroke="#000" stroke-width="0.40">60</text>
<text transform="translate(149.68,760.5) scale(1,1.06)" font-size="25.5" text-anchor="middle">2</text>
<text transform="translate(198.46,760.5) scale(1,1.06)" font-size="25.5" text-anchor="middle">4</text>
<text transform="translate(227.00,760.5) scale(1,1.06)" font-size="25.5" text-anchor="middle">6</text>
<text transform="translate(311.73,760.5) scale(1,1.06)" font-size="25.5" text-anchor="middle">2</text>
<text transform="translate(360.51,760.5) scale(1,1.06)" font-size="25.5" text-anchor="middle">4</text>
<text transform="translate(389.05,760.5) scale(1,1.06)" font-size="25.5" text-anchor="middle">6</text>
<text transform="translate(473.78,760.5) scale(1,1.06)" font-size="25.5" text-anchor="middle">2</text>
<text transform="translate(522.56,760.5) scale(1,1.06)" font-size="25.5" text-anchor="middle">4</text>
<text transform="translate(551.10,760.5) scale(1,1.06)" font-size="25.5" text-anchor="middle">6</text>
<text transform="translate(29.60,444.24) rotate(-90)" font-size="35.00" fill="#000" stroke="#000" stroke-width="0.40"><tspan font-style="italic">L</tspan> (<tspan font-family="Liberation Serif" stroke-width="0">µ</tspan>H)</text>
<text transform="translate(638.10,446.84) rotate(-90)" font-size="35.00" fill="#000" stroke="#000" stroke-width="0.40"><tspan font-style="italic">L</tspan> (<tspan font-family="Liberation Serif" stroke-width="0">µ</tspan>H)</text>
<text transform="translate(1054.60,445.24) rotate(-90)" font-size="35.00" fill="#000" stroke="#000" stroke-width="0.40"><tspan font-style="italic">L</tspan> (<tspan font-family="Liberation Serif" stroke-width="0">µ</tspan>H)</text>
<text transform="translate(291.80,824.60)" font-size="35.00" fill="#000" stroke="#000" stroke-width="0.40"><tspan font-style="italic">f</tspan> (kHz</text>
<text transform="translate(384.40,824.60)" font-size="35.00" fill="#000" stroke="#000" stroke-width="0.40">)</text>
<text transform="translate(1221.20,824.30)" font-size="35.00" fill="#000" stroke="#000" stroke-width="0.40"><tspan font-style="italic">f</tspan> (kHz</text>
<text transform="translate(1313.90,824.30)" font-size="35.00" fill="#000" stroke="#000" stroke-width="0.40">)</text>
<text transform="translate(759.50,834.30)" font-size="35.00" fill="#000" stroke="#000" stroke-width="0.40"><tspan font-style="italic">j</tspan></text>
<text transform="translate(769.10,842.50) scale(1.000,1.040)" font-size="24.00" fill="#000" stroke="#000" stroke-width="0.58">0</text>
<text transform="translate(791.40,834.30)" font-size="35.00" fill="#000" stroke="#000" stroke-width="0.40">(</text>
<clipPath id="c1_11"><path clip-rule="evenodd" d="M-35.00 -70.00H108.93V35.00H-35.00ZM0.68 -4.21H8.80V1.50H0.68ZM11.89 -4.21H19.31V1.50H11.89Z"/></clipPath>
<text transform="translate(803.80,834.30)" font-size="35.00" fill="#000" stroke="#000" stroke-width="0.40" clip-path="url(#c1_11)">10</text>
<text transform="translate(840.80,811.60) scale(1.000,1.040)" font-size="25.50" fill="#000" stroke="#000" stroke-width="0.55">7</text>
<text transform="translate(866.30,834.30)" font-size="35.00" fill="#000" stroke="#000" stroke-width="0.40">A/m</text>
<text transform="translate(928.10,812.30) scale(1.000,1.040)" font-size="25.50" fill="#000" stroke="#000" stroke-width="0.55">2</text>
<text transform="translate(943.40,834.30)" font-size="35.00" fill="#000" stroke="#000" stroke-width="0.40">)</text>
<text transform="translate(320.30,125.00)" font-size="31.30" fill="#000" stroke="#000" stroke-width="0.45"><tspan font-style="italic">T</tspan></text>
<path d="M349.10 109.10h15.00v3.00h-15.00zM349.10 115.60h15.00v3.00h-15.00z" fill="#000"/>
<clipPath id="c1_12"><path clip-rule="evenodd" d="M-31.30 -62.60H126.99V31.30H-31.30ZM0.61 -3.94H7.87V1.50H0.61ZM10.64 -3.94H17.27V1.50H10.64Z"/></clipPath>
<text transform="translate(374.29,125.00)" font-size="31.30" fill="#000" stroke="#000" stroke-width="0.45" clip-path="url(#c1_12)">10 K</text>
<clipPath id="c1_13"><path clip-rule="evenodd" d="M-31.30 -62.60H191.37V31.30H-31.30ZM51.05 -3.94H58.31V1.50H51.05ZM61.07 -3.94H67.71V1.50H61.07ZM85.86 -3.94H93.12V1.50H85.86ZM95.89 -3.94H102.52V1.50H95.89Z"/></clipPath>
<text transform="translate(319.30,162.50)" font-size="31.30" fill="#000" stroke="#000" stroke-width="0.45" clip-path="url(#c1_13)"><tspan font-style="italic">j</tspan> // [1010]</text>
<line x1="409.8" y1="133.3" x2="418.4" y2="133.3" stroke="#000" stroke-width="1.9"/>
<text transform="translate(504.30,143.70)" font-size="31.30" fill="#000" stroke="#000" stroke-width="0.45" font-weight="bold">#</text>
<text transform="translate(522.30,143.70)" font-size="31.30" fill="#000" stroke="#000" stroke-width="0.45">2</text>
<text transform="translate(729.90,101.50)" font-size="31.30" fill="#000" stroke="#000" stroke-width="0.45" font-weight="bold">#</text>
<text transform="translate(748.90,101.50)" font-size="31.30" fill="#000" stroke="#000" stroke-width="0.45">2</text>
<clipPath id="c1_14"><path clip-rule="evenodd" d="M-31.30 -62.60H191.37V31.30H-31.30ZM51.05 -3.94H58.31V1.50H51.05ZM61.07 -3.94H67.71V1.50H61.07ZM85.86 -3.94H93.12V1.50H85.86ZM95.89 -3.94H102.52V1.50H95.89Z"/></clipPath>
<text transform="translate(833.00,121.50)" font-size="31.30" fill="#000" stroke="#000" stroke-width="0.45" clip-path="url(#c1_14)"><tspan font-style="italic">j</tspan> // [1010]</text>
<line x1="923.5" y1="90.0" x2="932.1" y2="90.0" stroke="#000" stroke-width="1.9"/>
<text transform="translate(845.30,167.40)" font-size="31.30" fill="#000" stroke="#000" stroke-width="0.45"><tspan font-style="italic">T</tspan></text>
<path d="M874.10 151.30h15.20v3.00h-15.20zM874.10 157.80h15.20v3.00h-15.20z" fill="#000"/>
<clipPath id="c1_15"><path clip-rule="evenodd" d="M-31.30 -62.60H126.99V31.30H-31.30ZM0.61 -3.94H7.87V1.50H0.61ZM10.64 -3.94H17.27V1.50H10.64Z"/></clipPath>
<text transform="translate(899.69,167.40)" font-size="31.30" fill="#000" stroke="#000" stroke-width="0.45" clip-path="url(#c1_15)">10 K</text>
<text transform="translate(844.30,226.30)" font-size="31.30" fill="#000" stroke="#000" stroke-width="0.45"><tspan font-style="italic">f</tspan></text>
<path d="M864.80 210.15h14.90v3.00h-14.90zM864.80 216.65h14.90v3.00h-14.90z" fill="#000"/>
<clipPath id="c1_16"><path clip-rule="evenodd" d="M-31.80 -63.60H164.36V31.80H-31.80ZM0.62 -3.98H8.00V1.50H0.62ZM10.81 -3.98H17.55V1.50H10.81Z"/></clipPath>
<text transform="translate(888.84,227.40)" font-size="31.80" fill="#6800d8" stroke="#6800d8" stroke-width="0.44" clip-path="url(#c1_16)">105 Hz</text>
<clipPath id="c1_17"><path clip-rule="evenodd" d="M-31.80 -63.60H182.04V31.80H-31.80ZM0.62 -3.98H8.00V1.50H0.62ZM10.81 -3.98H17.55V1.50H10.81Z"/></clipPath>
<text transform="translate(871.16,265.20)" font-size="31.80" fill="#0088d8" stroke="#0088d8" stroke-width="0.44" clip-path="url(#c1_17)">1000 Hz</text>
<text transform="translate(871.16,304.20)" font-size="31.80" fill="#a09e00" stroke="#a09e00" stroke-width="0.44">2000 Hz</text>
<clipPath id="c1_18"><path clip-rule="evenodd" d="M-31.30 -62.60H191.37V31.30H-31.30ZM51.05 -3.94H58.31V1.50H51.05ZM61.07 -3.94H67.71V1.50H61.07ZM85.86 -3.94H93.12V1.50H85.86ZM95.89 -3.94H102.52V1.50H95.89Z"/></clipPath>
<text transform="translate(1193.40,113.00)" font-size="31.30" fill="#000" stroke="#000" stroke-width="0.45" clip-path="url(#c1_18)"><tspan font-style="italic">j</tspan> // [1010]</text>
<line x1="1283.9" y1="85.2" x2="1292.5" y2="85.2" stroke="#000" stroke-width="1.9"/>
<text transform="translate(1357.30,107.70)" font-size="31.30" fill="#000" stroke="#000" stroke-width="0.45" font-weight="bold">#</text>
<text transform="translate(1375.20,107.70)" font-size="31.30" fill="#000" stroke="#000" stroke-width="0.45">2</text>
<text transform="translate(302.30,233.60) scale(1.000,1.040)" font-size="29.50" fill="#000" stroke="#000" stroke-width="0.47"><tspan font-style="italic">j</tspan></text>
<text transform="translate(309.30,239.70) scale(1.000,1.040)" font-size="20.50" fill="#000" stroke="#000" stroke-width="0.68">0</text>
<path d="M334.00 217.55h14.90v3.00h-14.90zM334.00 224.05h14.90v3.00h-14.90z" fill="#000"/>
<text transform="translate(366.10,239.00) scale(1.000,1.040)" font-size="31.30" fill="#ff0000" stroke="#ff0000" stroke-width="0.45">6.5</text>
<path d="M418.70 220.80L432.90 235.00M418.70 235.00L432.90 220.80" stroke="#ff0000" stroke-width="1.90" fill="none"/>
<clipPath id="c1_19"><path clip-rule="evenodd" d="M-31.30 -62.60H97.42V31.30H-31.30ZM0.61 -3.94H7.87V1.50H0.61ZM10.64 -3.94H17.27V1.50H10.64Z"/></clipPath>
<text transform="translate(442.30,239.00) scale(1.000,1.040)" font-size="31.30" fill="#ff0000" stroke="#ff0000" stroke-width="0.45" clip-path="url(#c1_19)">10</text>
<text transform="translate(476.60,229.30) scale(1.000,1.040)" font-size="21.00" fill="#ff0000" stroke="#ff0000" stroke-width="0.67">8</text>
<text transform="translate(495.80,239.00) scale(1.035,1.040)" font-size="31.30" fill="#ff0000" stroke="#ff0000" stroke-width="0.45">A/m</text>
<text transform="translate(552.10,229.30) scale(1.000,1.040)" font-size="21.00" fill="#ff0000" stroke="#ff0000" stroke-width="0.67">2</text>
<text transform="translate(366.40,277.20) scale(1.000,1.040)" font-size="31.30" fill="#ffaa00" stroke="#ffaa00" stroke-width="0.45">5.8</text>
<path d="M418.70 259.00L432.90 273.20M418.70 273.20L432.90 259.00" stroke="#ffaa00" stroke-width="1.90" fill="none"/>
<clipPath id="c1_20"><path clip-rule="evenodd" d="M-31.30 -62.60H97.42V31.30H-31.30ZM0.61 -3.94H7.87V1.50H0.61ZM10.64 -3.94H17.27V1.50H10.64Z"/></clipPath>
<text transform="translate(442.30,277.20) scale(1.000,1.040)" font-size="31.30" fill="#ffaa00" stroke="#ffaa00" stroke-width="0.45" clip-path="url(#c1_20)">10</text>
<text transform="translate(476.60,267.50) scale(1.000,1.040)" font-size="21.00" fill="#ffaa00" stroke="#ffaa00" stroke-width="0.67">8</text>
<text transform="translate(495.80,277.20) scale(1.035,1.040)" font-size="31.30" fill="#ffaa00" stroke="#ffaa00" stroke-width="0.45">A/m</text>
<text transform="translate(552.10,267.50) scale(1.000,1.040)" font-size="21.00" fill="#ffaa00" stroke="#ffaa00" stroke-width="0.67">2</text>
<clipPath id="c1_21"><path clip-rule="evenodd" d="M-31.30 -62.60H106.11V31.30H-31.30ZM26.72 -3.94H33.98V1.50H26.72ZM36.74 -3.94H43.37V1.50H36.74Z"/></clipPath>
<text transform="translate(366.40,315.40) scale(1.000,1.040)" font-size="31.30" fill="#d8dc00" stroke="#d8dc00" stroke-width="0.45" clip-path="url(#c1_21)">5.1</text>
<path d="M418.70 297.20L432.90 311.40M418.70 311.40L432.90 297.20" stroke="#d8dc00" stroke-width="1.90" fill="none"/>
<clipPath id="c1_22"><path clip-rule="evenodd" d="M-31.30 -62.60H97.42V31.30H-31.30ZM0.61 -3.94H7.87V1.50H0.61ZM10.64 -3.94H17.27V1.50H10.64Z"/></clipPath>
<text transform="translate(442.30,315.40) scale(1.000,1.040)" font-size="31.30" fill="#d8dc00" stroke="#d8dc00" stroke-width="0.45" clip-path="url(#c1_22)">10</text>
<text transform="translate(476.60,305.70) scale(1.000,1.040)" font-size="21.00" fill="#d8dc00" stroke="#d8dc00" stroke-width="0.67">8</text>
<text transform="translate(495.80,315.40) scale(1.035,1.040)" font-size="31.30" fill="#d8dc00" stroke="#d8dc00" stroke-width="0.45">A/m</text>
<text transform="translate(552.10,305.70) scale(1.000,1.040)" font-size="21.00" fill="#d8dc00" stroke="#d8dc00" stroke-width="0.67">2</text>
<text transform="translate(367.00,353.60) scale(1.000,1.040)" font-size="31.30" fill="#60d800" stroke="#60d800" stroke-width="0.45">4.4</text>
<path d="M418.70 335.40L432.90 349.60M418.70 349.60L432.90 335.40" stroke="#60d800" stroke-width="1.90" fill="none"/>
<clipPath id="c1_23"><path clip-rule="evenodd" d="M-31.30 -62.60H97.42V31.30H-31.30ZM0.61 -3.94H7.87V1.50H0.61ZM10.64 -3.94H17.27V1.50H10.64Z"/></clipPath>
<text transform="translate(442.30,353.60) scale(1.000,1.040)" font-size="31.30" fill="#60d800" stroke="#60d800" stroke-width="0.45" clip-path="url(#c1_23)">10</text>
<text transform="translate(476.60,343.90) scale(1.000,1.040)" font-size="21.00" fill="#60d800" stroke="#60d800" stroke-width="0.67">8</text>
<text transform="translate(495.80,353.60) scale(1.035,1.040)" font-size="31.30" fill="#60d800" stroke="#60d800" stroke-width="0.45">A/m</text>
<text transform="translate(552.10,343.90) scale(1.000,1.040)" font-size="21.00" fill="#60d800" stroke="#60d800" stroke-width="0.67">2</text>
<text transform="translate(366.50,391.80) scale(1.000,1.040)" font-size="31.30" fill="#00a000" stroke="#00a000" stroke-width="0.45">3.6</text>
<path d="M418.70 373.60L432.90 387.80M418.70 387.80L432.90 373.60" stroke="#00a000" stroke-width="1.90" fill="none"/>
<clipPath id="c1_24"><path clip-rule="evenodd" d="M-31.30 -62.60H97.42V31.30H-31.30ZM0.61 -3.94H7.87V1.50H0.61ZM10.64 -3.94H17.27V1.50H10.64Z"/></clipPath>
<text transform="translate(442.30,391.80) scale(1.000,1.040)" font-size="31.30" fill="#00a000" stroke="#00a000" stroke-width="0.45" clip-path="url(#c1_24)">10</text>
<text transform="translate(476.60,382.10) scale(1.000,1.040)" font-size="21.00" fill="#00a000" stroke="#00a000" stroke-width="0.67">8</text>
<text transform="translate(495.80,391.80) scale(1.035,1.040)" font-size="31.30" fill="#00a000" stroke="#00a000" stroke-width="0.45">A/m</text>
<text transform="translate(552.10,382.10) scale(1.000,1.040)" font-size="21.00" fill="#00a000" stroke="#00a000" stroke-width="0.67">2</text>
<text transform="translate(366.10,430.00) scale(1.000,1.040)" font-size="31.30" fill="#00d0d0" stroke="#00d0d0" stroke-width="0.45">2.9</text>
<path d="M418.70 411.80L432.90 426.00M418.70 426.00L432.90 411.80" stroke="#00d0d0" stroke-width="1.90" fill="none"/>
<clipPath id="c1_25"><path clip-rule="evenodd" d="M-31.30 -62.60H97.42V31.30H-31.30ZM0.61 -3.94H7.87V1.50H0.61ZM10.64 -3.94H17.27V1.50H10.64Z"/></clipPath>
<text transform="translate(442.30,430.00) scale(1.000,1.040)" font-size="31.30" fill="#00d0d0" stroke="#00d0d0" stroke-width="0.45" clip-path="url(#c1_25)">10</text>
<text transform="translate(476.60,420.30) scale(1.000,1.040)" font-size="21.00" fill="#00d0d0" stroke="#00d0d0" stroke-width="0.67">8</text>
<text transform="translate(495.80,430.00) scale(1.035,1.040)" font-size="31.30" fill="#00d0d0" stroke="#00d0d0" stroke-width="0.45">A/m</text>
<text transform="translate(552.10,420.30) scale(1.000,1.040)" font-size="21.00" fill="#00d0d0" stroke="#00d0d0" stroke-width="0.67">2</text>
<text transform="translate(366.10,468.20) scale(1.000,1.040)" font-size="31.30" fill="#00aaff" stroke="#00aaff" stroke-width="0.45">2.2</text>
<path d="M418.70 450.00L432.90 464.20M418.70 464.20L432.90 450.00" stroke="#00aaff" stroke-width="1.90" fill="none"/>
<clipPath id="c1_26"><path clip-rule="evenodd" d="M-31.30 -62.60H97.42V31.30H-31.30ZM0.61 -3.94H7.87V1.50H0.61ZM10.64 -3.94H17.27V1.50H10.64Z"/></clipPath>
<text transform="translate(442.30,468.20) scale(1.000,1.040)" font-size="31.30" fill="#00aaff" stroke="#00aaff" stroke-width="0.45" clip-path="url(#c1_26)">10</text>
<text transform="translate(476.60,458.50) scale(1.000,1.040)" font-size="21.00" fill="#00aaff" stroke="#00aaff" stroke-width="0.67">8</text>
<text transform="translate(495.80,468.20) scale(1.035,1.040)" font-size="31.30" fill="#00aaff" stroke="#00aaff" stroke-width="0.45">A/m</text>
<text transform="translate(552.10,458.50) scale(1.000,1.040)" font-size="21.00" fill="#00aaff" stroke="#00aaff" stroke-width="0.67">2</text>
<clipPath id="c1_27"><path clip-rule="evenodd" d="M-31.30 -62.60H106.11V31.30H-31.30ZM0.61 -3.94H7.87V1.50H0.61ZM10.64 -3.94H17.27V1.50H10.64Z"/></clipPath>
<text transform="translate(365.30,506.40) scale(1.000,1.040)" font-size="31.30" fill="#0022ff" stroke="#0022ff" stroke-width="0.45" clip-path="url(#c1_27)">1.5</text>
<path d="M418.70 488.20L432.90 502.40M418.70 502.40L432.90 488.20" stroke="#0022ff" stroke-width="1.90" fill="none"/>
<clipPath id="c1_28"><path clip-rule="evenodd" d="M-31.30 -62.60H97.42V31.30H-31.30ZM0.61 -3.94H7.87V1.50H0.61ZM10.64 -3.94H17.27V1.50H10.64Z"/></clipPath>
<text transform="translate(442.30,506.40) scale(1.000,1.040)" font-size="31.30" fill="#0022ff" stroke="#0022ff" stroke-width="0.45" clip-path="url(#c1_28)">10</text>
<text transform="translate(476.60,496.70) scale(1.000,1.040)" font-size="21.00" fill="#0022ff" stroke="#0022ff" stroke-width="0.67">8</text>
<text transform="translate(495.80,506.40) scale(1.035,1.040)" font-size="31.30" fill="#0022ff" stroke="#0022ff" stroke-width="0.45">A/m</text>
<text transform="translate(552.10,496.70) scale(1.000,1.040)" font-size="21.00" fill="#0022ff" stroke="#0022ff" stroke-width="0.67">2</text>
<text transform="translate(366.10,544.60) scale(1.000,1.040)" font-size="31.30" fill="#8822f0" stroke="#8822f0" stroke-width="0.45">7.3</text>
<path d="M418.70 526.40L432.90 540.60M418.70 540.60L432.90 526.40" stroke="#8822f0" stroke-width="1.90" fill="none"/>
<clipPath id="c1_29"><path clip-rule="evenodd" d="M-31.30 -62.60H97.42V31.30H-31.30ZM0.61 -3.94H7.87V1.50H0.61ZM10.64 -3.94H17.27V1.50H10.64Z"/></clipPath>
<text transform="translate(442.30,544.60) scale(1.000,1.040)" font-size="31.30" fill="#8822f0" stroke="#8822f0" stroke-width="0.45" clip-path="url(#c1_29)">10</text>
<text transform="translate(476.40,534.90) scale(1.000,1.040)" font-size="21.00" fill="#8822f0" stroke="#8822f0" stroke-width="0.67">7</text>
<text transform="translate(495.80,544.60) scale(1.035,1.040)" font-size="31.30" fill="#8822f0" stroke="#8822f0" stroke-width="0.45">A/m</text>
<text transform="translate(552.10,534.90) scale(1.000,1.040)" font-size="21.00" fill="#8822f0" stroke="#8822f0" stroke-width="0.67">2</text>
<text transform="translate(1193.30,152.00) scale(1.000,1.040)" font-size="31.30" fill="#000" stroke="#000" stroke-width="0.45">7.3</text>
<path d="M1245.90 133.80L1260.10 148.00M1245.90 148.00L1260.10 133.80" stroke="#000" stroke-width="1.90" fill="none"/>
<clipPath id="c1_30"><path clip-rule="evenodd" d="M-31.30 -62.60H97.42V31.30H-31.30ZM0.61 -3.94H7.87V1.50H0.61ZM10.64 -3.94H17.27V1.50H10.64Z"/></clipPath>
<text transform="translate(1269.50,152.00) scale(1.000,1.040)" font-size="31.30" fill="#000" stroke="#000" stroke-width="0.45" clip-path="url(#c1_30)">10</text>
<text transform="translate(1303.60,142.30) scale(1.000,1.040)" font-size="21.00" fill="#000" stroke="#000" stroke-width="0.67">7</text>
<text transform="translate(1323.00,152.00) scale(1.035,1.040)" font-size="31.30" fill="#000" stroke="#000" stroke-width="0.45">A/m</text>
<text transform="translate(1379.30,142.30) scale(1.000,1.040)" font-size="21.00" fill="#000" stroke="#000" stroke-width="0.67">2</text>
<text transform="translate(1250.50,241.20)" font-size="31.30" fill="#000" stroke="#000" stroke-width="0.45"><tspan font-style="italic">T</tspan></text>
<path d="M1280.30 225.35h14.90v3.00h-14.90zM1280.30 231.85h14.90v3.00h-14.90z" fill="#000"/>
<clipPath id="c1_31"><path clip-rule="evenodd" d="M-31.30 -62.60H126.99V31.30H-31.30ZM0.61 -3.94H7.87V1.50H0.61ZM10.64 -3.94H17.27V1.50H10.64Z"/></clipPath>
<text transform="translate(1302.99,240.60)" font-size="31.30" fill="#0000ff" stroke="#0000ff" stroke-width="0.45" clip-path="url(#c1_31)">10 K</text>
<text transform="translate(1302.99,278.68)" font-size="31.30" fill="#0020d0" stroke="#0020d0" stroke-width="0.45">20 K</text>
<text transform="translate(1302.99,316.76)" font-size="31.30" fill="#0050a0" stroke="#0050a0" stroke-width="0.45">30 K</text>
<text transform="translate(1302.99,354.84)" font-size="31.30" fill="#007860" stroke="#007860" stroke-width="0.45">40 K</text>
<text transform="translate(1302.99,392.92)" font-size="31.30" fill="#00a028" stroke="#00a028" stroke-width="0.45">50 K</text>
<text transform="translate(1302.99,431.00)" font-size="31.30" fill="#00c800" stroke="#00c800" stroke-width="0.45">60 K</text>
</svg></body></html>
